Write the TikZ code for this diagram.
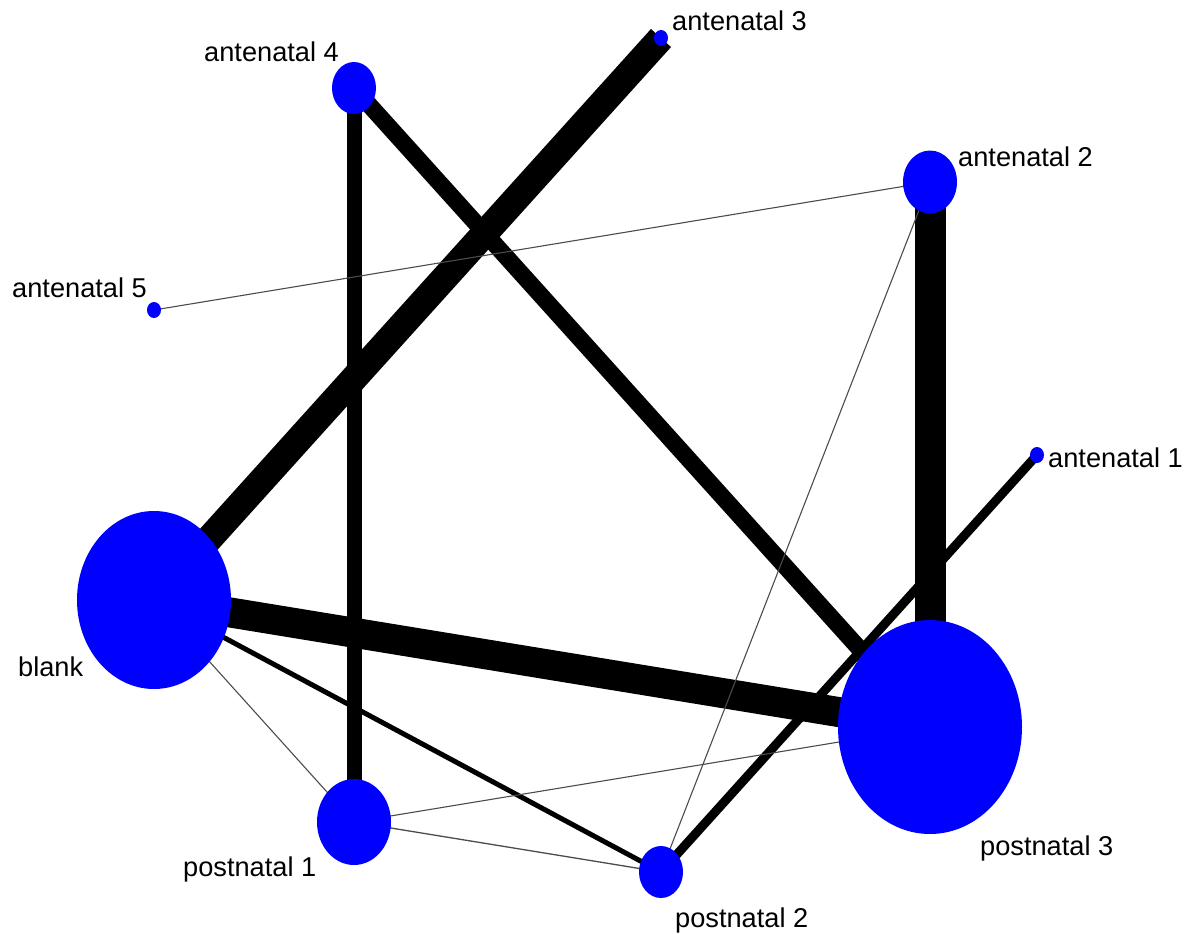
\documentclass[tikz,border=0pt]{standalone}
\usepackage{fontspec}
\setmainfont{Liberation Sans}
\usetikzlibrary{shapes.geometric,backgrounds}
\tikzset{
  vert/.style={ellipse, fill={rgb,255:red,0;green,0;blue,255}, draw=none, inner sep=0pt},
  lab/.style={anchor=base west, inner sep=0pt, font=\fontsize{27.2}{32}\selectfont},
  edge/.style={line cap=butt, draw=black},
  thin edge/.style={line cap=butt, draw=black!70, line width=1.1pt},
}
\begin{document}
\begin{tikzpicture}[x=1pt,y=-1pt]
\useasboundingbox (0,0) rectangle (1197,934);
% vertices
\node[vert, minimum width=14pt, minimum height=16pt] (a3) at (661,38) {};
\node[vert, minimum width=44pt, minimum height=52pt] (a4) at (354,88) {};
\node[vert, minimum width=54pt, minimum height=63pt] (a2) at (930,182) {};
\node[vert, minimum width=14pt, minimum height=16pt] (a5) at (154,310) {};
\node[vert, minimum width=14pt, minimum height=16pt] (a1) at (1037,455) {};
\node[vert, minimum width=154pt, minimum height=178pt] (bl) at (154,600) {};
\node[vert, minimum width=184pt, minimum height=214pt] (p3) at (930,727) {};
\node[vert, minimum width=74pt, minimum height=86pt] (p1) at (354,822) {};
\node[vert, minimum width=44pt, minimum height=52pt] (p2) at (661,872) {};
% labels
\node[lab] (la3) at (672,31) {antenatal 3};
\node[lab] (la4) at (204,62) {antenatal 4};
\node[lab] (la2) at (958,166) {antenatal 2};
\node[lab] (la5) at (12,297) {antenatal 5};
\node[lab] (la1) at (1048,467) {antenatal 1};
\node[lab] (lbl) at (18,676) {blank};
\node[lab] (lp3) at (980,855) {postnatal 3};
\node[lab] (lp1) at (183,876) {postnatal 1};
\node[lab] (lp2) at (675,927) {postnatal 2};
% edges
\begin{scope}[on background layer]
\draw[edge, line width=27pt] (bl.center) -- (a3.center);
\draw[edge, line width=30pt] (bl.center) -- (p3.center);
\draw[edge, line width=31pt] (a2.center) -- (p3.center);
\draw[edge, line width=17pt] (a4.center) -- (p3.center);
\draw[edge, line width=15pt] (a4.center) -- (p1.center);
\draw[edge, line width=9pt] (a1.center) -- (p2.center);
\draw[edge, line width=5pt] (bl.center) -- (p2.center);
\draw[thin edge] (bl.center) -- (p1.center);
\draw[thin edge] (a5.center) -- (a2.center);
\draw[thin edge] (a2.center) -- (p2.center);
\draw[thin edge] (p1.center) -- (p3.center);
\draw[thin edge, line width=1.3pt] (p1.center) -- (p2.center);
\end{scope}
\end{tikzpicture}
\end{document}
